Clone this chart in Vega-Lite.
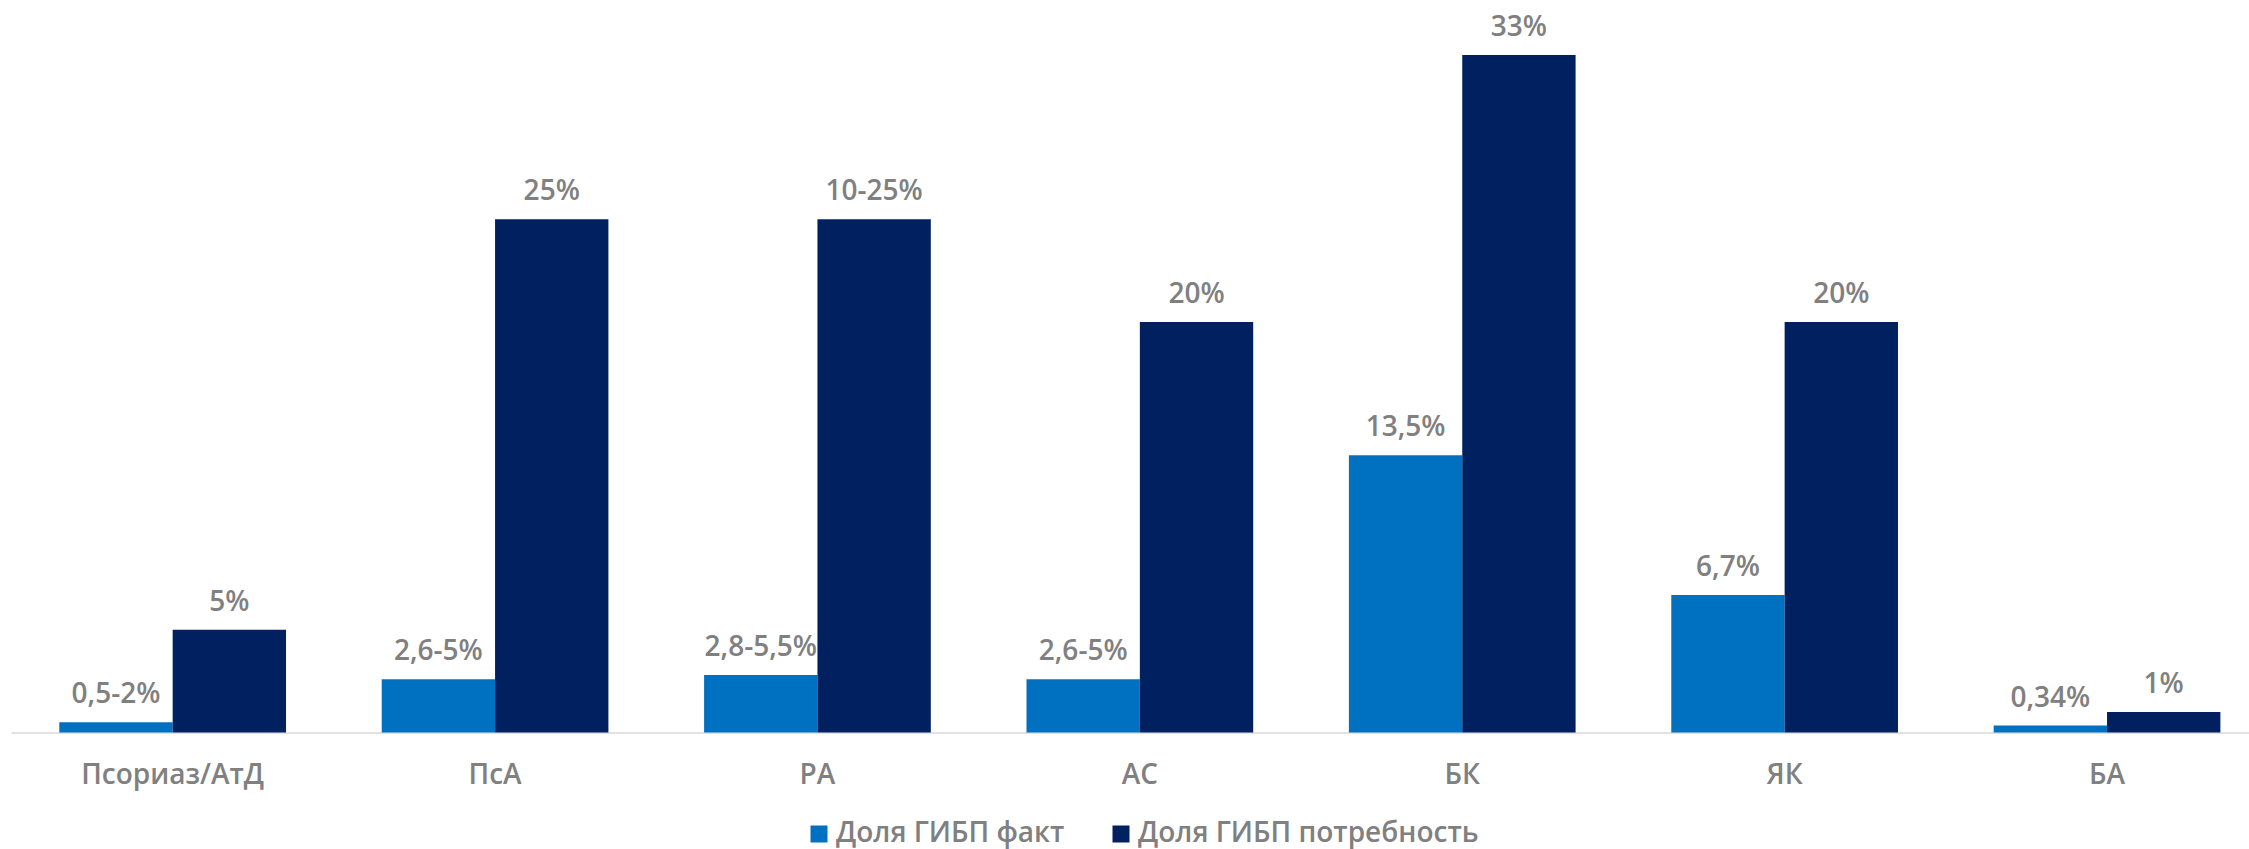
{
  "$schema": "https://vega.github.io/schema/vega-lite/v6.json",
  "width": 2238,
  "height": 718.5,
  "autosize": {"type": "none"},
  "padding": {"left": 11, "top": 14, "right": 0, "bottom": 116.5},
  "background": "white",
  "config": {"view": {"stroke": null}, "font": "Open Sans"},
  "data": {
    "values": [
      {"cat": "Псориаз/АтД", "series": "Доля ГИБП факт", "value": 0.5, "label": "0,5-2%"},
      {"cat": "Псориаз/АтД", "series": "Доля ГИБП потребность", "value": 5, "label": "5%"},
      {"cat": "ПсА", "series": "Доля ГИБП факт", "value": 2.6, "label": "2,6-5%"},
      {"cat": "ПсА", "series": "Доля ГИБП потребность", "value": 25, "label": "25%"},
      {"cat": "РА", "series": "Доля ГИБП факт", "value": 2.8, "label": "2,8-5,5%"},
      {"cat": "РА", "series": "Доля ГИБП потребность", "value": 25, "label": "10-25%"},
      {"cat": "АС", "series": "Доля ГИБП факт", "value": 2.6, "label": "2,6-5%"},
      {"cat": "АС", "series": "Доля ГИБП потребность", "value": 20, "label": "20%"},
      {"cat": "БК", "series": "Доля ГИБП факт", "value": 13.5, "label": "13,5%"},
      {"cat": "БК", "series": "Доля ГИБП потребность", "value": 33, "label": "33%"},
      {"cat": "ЯК", "series": "Доля ГИБП факт", "value": 6.7, "label": "6,7%"},
      {"cat": "ЯК", "series": "Доля ГИБП потребность", "value": 20, "label": "20%"},
      {"cat": "БА", "series": "Доля ГИБП факт", "value": 0.34, "label": "0,34%"},
      {"cat": "БА", "series": "Доля ГИБП потребность", "value": 1, "label": "1%"}
    ]
  },
  "encoding": {
    "x": {
      "field": "cat", "type": "nominal", "sort": null,
      "scale": {"paddingInner": 0.2968, "paddingOuter": 0.1193, "align": 0.628},
      "axis": {
        "title": null, "labelAngle": 0, "ticks": false, "tickSize": 0,
        "labelPadding": 51, "labelBaseline": "alphabetic", "labelLimit": 0,
        "labelFont": "Open Sans", "labelFontSize": 28, "labelFontWeight": 600,
        "labelColor": "#808080", "domainColor": "#d9d9d9", "domainWidth": 1.5, "grid": false
      }
    },
    "xOffset": {
      "field": "series", "type": "nominal", "sort": null,
      "scale": {"paddingInner": 0, "paddingOuter": 0}
    },
    "y": {
      "field": "value", "type": "quantitative",
      "scale": {"domain": [0, 35], "nice": false, "zero": true},
      "axis": null
    }
  },
  "layer": [
    {
      "mark": {"type": "bar"},
      "encoding": {
        "color": {
          "field": "series", "type": "nominal", "sort": null,
          "scale": {"domain": ["Доля ГИБП факт", "Доля ГИБП потребность"], "range": ["#0070c0", "#002060"]},
          "legend": {
            "title": null, "orient": "none", "legendX": 794, "legendY": 806,
            "direction": "horizontal", "symbolType": "square", "symbolSize": 289,
            "symbolStrokeWidth": 0, "labelFontSize": 28, "labelFont": "Open Sans",
            "labelFontWeight": 600, "labelColor": "#808080", "labelOffset": 3,
            "labelLimit": 0, "columnPadding": 42, "padding": 0
          }
        }
      }
    },
    {
      "mark": {
        "type": "text", "dy": -19, "baseline": "alphabetic", "align": "center",
        "fontSize": 28, "font": "Open Sans", "fontWeight": 600, "color": "#808080"
      },
      "encoding": {"text": {"field": "label"}}
    }
  ]
}
